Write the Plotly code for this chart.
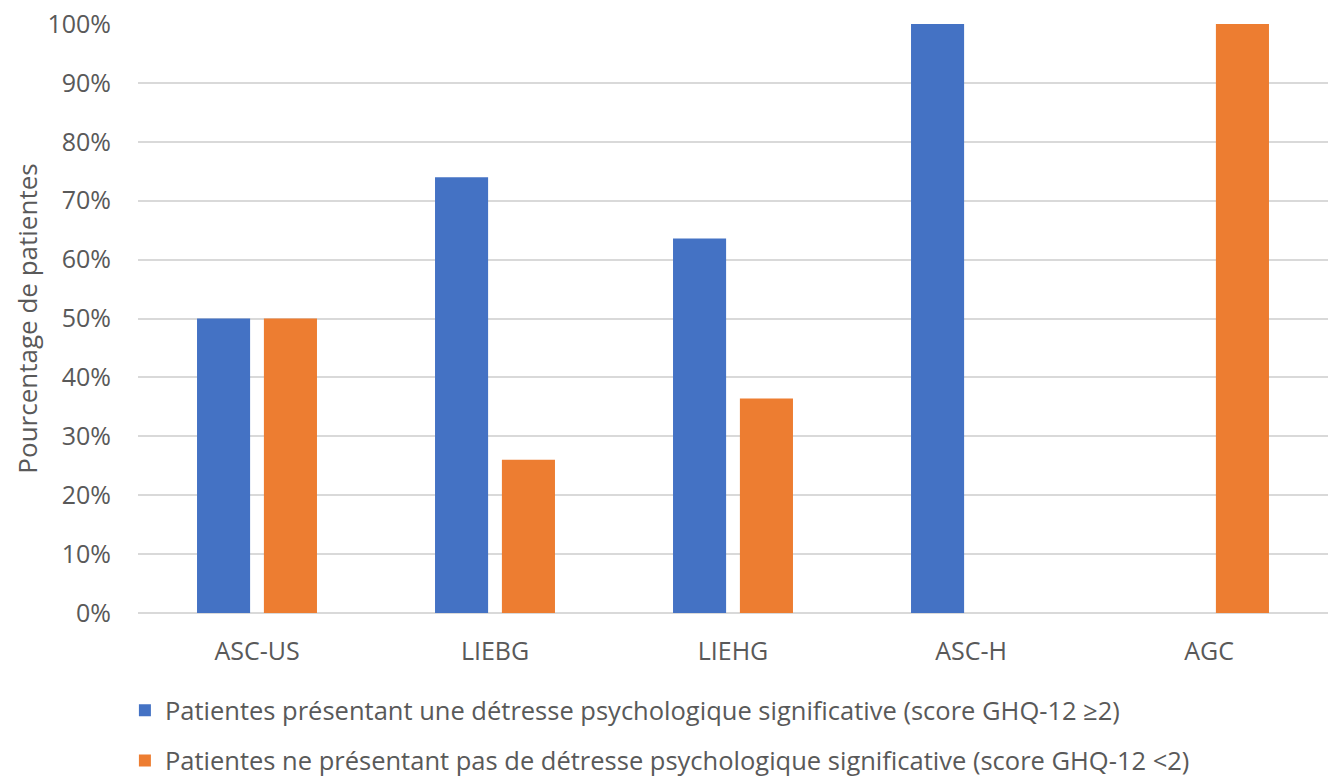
import plotly.graph_objects as go

categories = ["ASC-US", "LIEBG", "LIEHG", "ASC-H", "AGC"]
detresse = [0.50, 0.74, 0.636, 1.00, 0.0]
pas_detresse = [0.50, 0.26, 0.364, 0.0, 1.00]
series_names = [
    "Patientes présentant une détresse psychologique significative (score GHQ-12 ≥2)",
    "Patientes ne présentant pas de détresse psychologique significative (score GHQ-12 <2)",
]
y_ticks = [0, 0.1, 0.2, 0.3, 0.4, 0.5, 0.6, 0.7, 0.8, 0.9, 1.0]

BLUE = "#4472C4"
ORANGE = "#ED7D31"
TXT = "#595959"
FONT = "Open Sans"
TICK_SIZE = 25
LEG_SIZE = 25.5
TITLE_SIZE = 26

fig = go.Figure()
fig.add_trace(go.Bar(x=categories, y=detresse, name=series_names[0],
                     marker=dict(color=BLUE, line=dict(width=0)),
                     width=0.223, offset=-0.252, legend="legend"))
fig.add_trace(go.Bar(x=categories, y=pas_detresse, name=series_names[1],
                     marker=dict(color=ORANGE, line=dict(width=0)),
                     width=0.223, offset=0.029, legend="legend2"))

legend_common = dict(orientation="v", xanchor="left", yanchor="middle",
                     font=dict(family=FONT, size=LEG_SIZE, color=TXT),
                     bgcolor="rgba(0,0,0,0)", itemwidth=30)

fig.update_layout(
    width=1334, height=778,
    margin=dict(l=138, r=6, t=24, b=165, autoexpand=False),
    paper_bgcolor="white", plot_bgcolor="white",
    font=dict(family=FONT, color=TXT, size=TICK_SIZE),
    showlegend=True,
    legend=dict(x=-0.011, y=-0.166, **legend_common),
    legend2=dict(x=-0.011, y=-0.251, **legend_common),
    xaxis=dict(showgrid=False, showline=False, ticks="", automargin=False,
               tickfont=dict(family=FONT, size=TICK_SIZE, color=TXT),
               ticklabelstandoff=21),
    yaxis=dict(range=[0, 1], tickvals=y_ticks, tickformat=".0%",
               automargin=False,
               showgrid=True, gridcolor="#D9D9D9", gridwidth=1.5,
               zeroline=True, zerolinecolor="#D9D9D9", zerolinewidth=1.5,
               showline=False, ticks="",
               tickfont=dict(family=FONT, size=TICK_SIZE, color=TXT),
               ticklabelstandoff=26,
               title=dict(text="Pourcentage de patientes",
                          font=dict(family=FONT, size=TITLE_SIZE, color=TXT),
                          standoff=2)),
)

fig.write_html("out.html",
               config={"displayModeBar": False},
               post_script="document.body.style.margin='0';document.body.style.overflow='hidden';")
